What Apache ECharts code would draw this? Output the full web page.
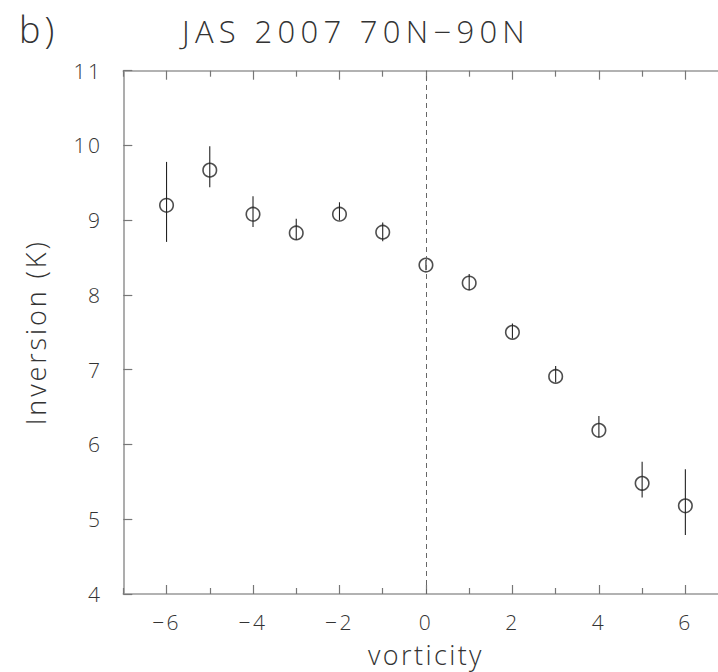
<!DOCTYPE html>
<html>
<head>
<meta charset="utf-8">
<script src="https://cdn.jsdelivr.net/npm/echarts@6/dist/echarts.min.js"></script>
<style>
  html, body { margin: 0; padding: 0; background: #fff; }
  #chart { width: 718px; height: 672px; }
</style>
</head>
<body>
<div id="chart"></div>
<script>
// Vorticity bins and mean inversion strength (K) with error-bar extents
const vorticity = [-6, -5, -4, -3, -2, -1, 0, 1, 2, 3, 4, 5, 6];
const inversion = [9.20, 9.67, 9.08, 8.83, 9.08, 8.84, 8.40, 8.16, 7.50, 6.91, 6.19, 5.48, 5.18];
const errLow    = [8.71, 9.44, 8.91, 8.74, 9.00, 8.72, 8.33, 8.07, 7.42, 6.83, 6.10, 5.29, 4.79];
const errHigh   = [9.78, 9.99, 9.32, 9.02, 9.24, 8.97, 8.47, 8.28, 7.62, 7.05, 6.38, 5.77, 5.67];
const xMajorTicks = [-6, -4, -2, 0, 2, 4, 6];
const xMinorTicks = [-7, -5, -3, -1, 1, 3, 5, 7];
const yTickLabels = [4, 5, 6, 7, 8, 9, 10, 11];

const FONT = 'Open Sans';
const INK = '#222';
const AXIS = '#999';
const TICK = '#777';
const TEXT = '#333';

const TITLE = 'JAS 2007 70N\u221290N';

const points = vorticity.map((v, i) => [v, inversion[i]]);
const bars = vorticity.map((v, i) => [v, errLow[i], errHigh[i]]);

const fmtMinus = v => String(v).replace('-', '\u2212');

// Shared pieces for the four horizontal axes (major/minor ticks, bottom/top)
function xAxisDef(position, ticks, len, withLine, withLabels) {
  const ax = {
    type: 'value', position, min: -7, max: 7, interval: 1,
    axisLine: { show: withLine, onZero: false, lineStyle: { color: AXIS, width: 1.6 } },
    axisTick: { show: true, inside: true, length: len, customValues: ticks,
                lineStyle: { color: TICK, width: 1.2 } },
    axisLabel: { show: false },
    splitLine: { show: false }
  };
  if (withLabels) {
    ax.axisLabel = {
      show: true, customValues: xMajorTicks, margin: 17,
      fontFamily: FONT, fontWeight: 300, fontSize: 21, color: TEXT,
      formatter: fmtMinus
    };
    ax.name = 'vorticity';
    ax.nameLocation = 'middle';
    ax.nameGap = 47;
    ax.nameTextStyle = { fontFamily: FONT, fontWeight: 300, fontSize: 27, color: TEXT };
  }
  return ax;
}

const chart = echarts.init(document.getElementById('chart'), null, { renderer: 'svg' });

chart.setOption({
  animation: false,
  backgroundColor: '#fff',
  textStyle: { fontFamily: FONT, color: TEXT },
  grid: {
    left: 123.3, width: 605.3, top: 70.7, height: 523.3,
    containLabel: false, outerBoundsMode: 'none'
  },
  title: [
    {
      text: 'b)', left: 14, top: 6,
      textStyle: { fontFamily: FONT, fontWeight: 300, fontSize: 36, color: TEXT }
    },
    {
      text: TITLE, left: 351, top: 10, textAlign: 'center',
      textStyle: { fontFamily: FONT, fontWeight: 300, fontSize: 31, color: TEXT }
    }
  ],
  xAxis: [
    xAxisDef('bottom', xMajorTicks, 9, true, true),
    xAxisDef('bottom', xMinorTicks, 6, false, false),
    xAxisDef('top', xMajorTicks, 9, true, false),
    xAxisDef('top', xMinorTicks, 6, false, false)
  ],
  yAxis: [
    {
      type: 'value', min: 4, max: 11, interval: 1,
      name: 'Inversion (K)', nameLocation: 'middle', nameGap: 74, nameRotate: 90,
      nameTextStyle: { fontFamily: FONT, fontWeight: 300, fontSize: 27, color: TEXT },
      axisLine: { onZero: false, lineStyle: { color: AXIS, width: 1.6 } },
      axisTick: { inside: true, length: 9, lineStyle: { color: TICK, width: 1.2 } },
      axisLabel: {
        margin: 21, fontFamily: FONT, fontWeight: 300, fontSize: 21, color: TEXT,
        formatter: v => yTickLabels.includes(v) ? String(v) : ''
      },
      splitLine: { show: false }
    }
  ],
  series: [
    {
      // vertical error bars
      type: 'custom',
      xAxisIndex: 0, yAxisIndex: 0,
      data: bars,
      renderItem: (params, api) => {
        const lo = api.coord([api.value(0), api.value(1)]);
        const hi = api.coord([api.value(0), api.value(2)]);
        return {
          type: 'line',
          shape: { x1: lo[0], y1: lo[1], x2: hi[0], y2: hi[1] },
          style: { stroke: INK, lineWidth: 1.1 }
        };
      },
      z: 2
    },
    {
      type: 'scatter',
      xAxisIndex: 0, yAxisIndex: 0,
      data: points,
      symbol: 'circle',
      symbolSize: 13.5,
      itemStyle: { color: 'rgba(0,0,0,0)', borderColor: INK, borderWidth: 1.6 },
      z: 3,
      markLine: {
        silent: true,
        symbol: 'none',
        label: { show: false },
        lineStyle: { type: [5, 4], color: '#666', width: 1 },
        data: [{ xAxis: 0 }]
      }
    }
  ]
});

// The plotting style uses widely tracked lettering; apply it to the SVG text nodes.
function trackText() {
  document.querySelectorAll('#chart svg text').forEach(t => {
    const s = t.textContent;
    let sp = '2.4px';
    if (s === TITLE) sp = '5.3px';
    else if (s === 'Inversion (K)') sp = '2.9px';
    else if (s === 'b)') sp = '4px';
    t.style.letterSpacing = sp;
  });
}
chart.getZr().flush();
trackText();
chart.on('finished', trackText);
</script>
</body>
</html>
